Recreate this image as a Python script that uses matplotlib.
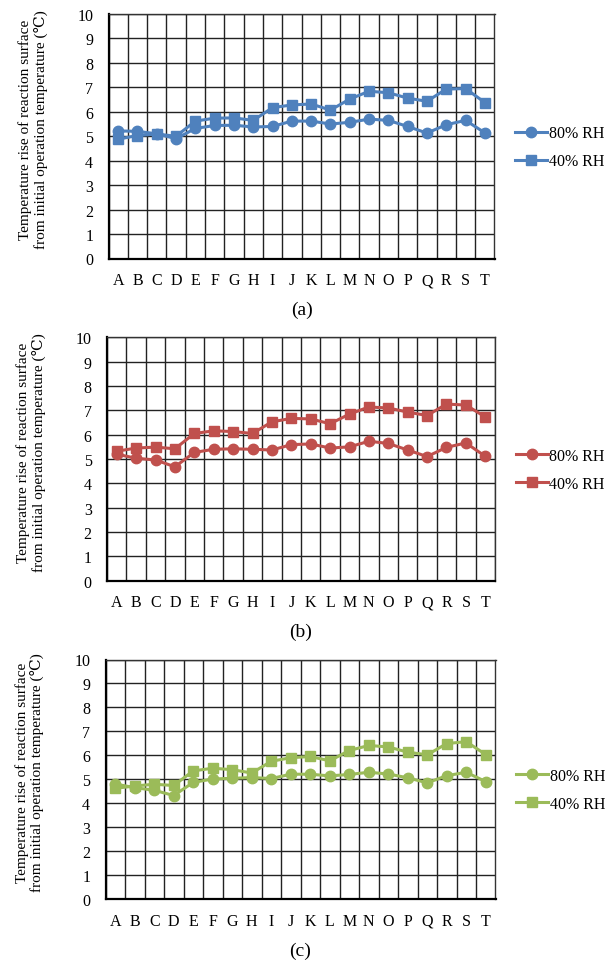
import matplotlib
matplotlib.use("Agg")
import matplotlib.pyplot as plt
import numpy as np

plt.rcParams['font.family'] = ['Liberation Serif', 'DejaVu Serif']

categories = list("ABCDEFGHIJKLMNOPQRST")

# panel (a)
a_rh80 = [5.22, 5.2, 5.1, 4.9, 5.32, 5.44, 5.45, 5.38, 5.4, 5.62, 5.62, 5.5,
          5.57, 5.7, 5.65, 5.4, 5.13, 5.47, 5.65, 5.14]
a_rh40 = [4.88, 5.03, 5.09, 5.0, 5.62, 5.74, 5.75, 5.65, 6.17, 6.28, 6.32, 6.07,
          6.52, 6.84, 6.78, 6.56, 6.43, 6.93, 6.95, 6.38]

# panel (b)
b_rh80 = [5.2, 5.03, 4.96, 4.68, 5.27, 5.4, 5.42, 5.4, 5.37, 5.59, 5.62, 5.45,
          5.5, 5.73, 5.64, 5.37, 5.1, 5.48, 5.66, 5.11]
b_rh40 = [5.32, 5.45, 5.49, 5.42, 6.05, 6.16, 6.13, 6.05, 6.53, 6.67, 6.65, 6.45,
          6.85, 7.14, 7.1, 6.93, 6.79, 7.26, 7.22, 6.73]

# panel (c)
c_rh80 = [4.8, 4.65, 4.54, 4.32, 4.87, 5.01, 5.04, 5.07, 5.03, 5.21, 5.21, 5.14,
          5.2, 5.29, 5.22, 5.06, 4.85, 5.15, 5.29, 4.9]
c_rh40 = [4.62, 4.72, 4.79, 4.74, 5.35, 5.46, 5.4, 5.26, 5.75, 5.9, 5.95, 5.77,
          6.2, 6.41, 6.35, 6.13, 6.02, 6.49, 6.57, 6.03]

series_labels = ["80% RH", "40% RH"]
panel_tags = ["(a)", "(b)", "(c)"]
colors = ["#4F81BD", "#C0504D", "#9BBB59"]
ylabel = ("Temperature rise of reaction surface\n"
          "from initial operation temperature (\u2103)")

W, H = 614, 962
fig = plt.figure(figsize=(W / 100, H / 100), dpi=100)

# axes boxes in pixels: left, right, top, bottom
boxes = [(108.5, 494.5, 15, 259.5),
         (107, 495, 338.5, 581.5),
         (105.5, 495.5, 660.5, 900)]

panels = [(a_rh80, a_rh40), (b_rh80, b_rh40), (c_rh80, c_rh40)]
x = np.arange(len(categories))

for (l, r, t, b), (s80, s40), col, tag in zip(boxes, panels, colors, panel_tags):
    ax = fig.add_axes([l / W, 1 - b / H, (r - l) / W, (b - t) / H])
    ax.set_xlim(-0.5, len(categories) - 0.5)
    ax.set_ylim(0, 10)
    ax.set_yticks(range(0, 11))
    ax.set_xticks(x)
    ax.set_xticklabels(categories)
    ax.set_xticks(np.arange(-0.5, len(categories), 1.0), minor=True)
    ax.grid(True, which='minor', axis='x', color='#222222', lw=1.0)
    ax.grid(True, which='major', axis='y', color='#222222', lw=1.0)
    ax.grid(False, which='major', axis='x')
    ax.set_axisbelow(True)
    ax.tick_params(which='both', length=0, labelsize=11.5)
    ax.tick_params(axis='x', pad=10)
    ax.tick_params(axis='y', pad=11)
    for side in ['top', 'right']:
        ax.spines[side].set_color('#333333')
        ax.spines[side].set_linewidth(1.0)
    for side in ['left', 'bottom']:
        ax.spines[side].set_color('black')
        ax.spines[side].set_linewidth(1.6)

    ax.plot(x, s80, color=col, lw=2.2, marker='o', markersize=7.5,
            label=series_labels[0], clip_on=False, zorder=3)
    ax.plot(x, s40, color=col, lw=2.2, marker='s', markersize=7.5,
            label=series_labels[1], clip_on=False, zorder=3)

    ax.set_ylabel(ylabel, fontsize=11, linespacing=1.1)
    ax.yaxis.set_label_coords(-0.158, 0.53)

    ax.legend(loc='center left', bbox_to_anchor=(1.037, 0.455), frameon=False,
              fontsize=11.5, handlelength=2.0, handletextpad=0.1,
              labelspacing=0.75, borderaxespad=0)

    fig.text((l + r) / 2 / W, 1 - (b + 51) / H, tag, ha='center', va='center',
             fontsize=14)

fig.savefig("out.png", dpi=100)
